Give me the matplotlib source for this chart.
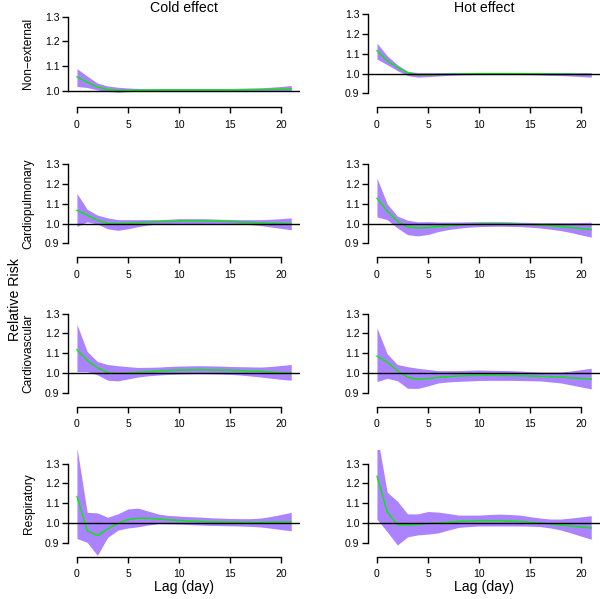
import matplotlib
matplotlib.use("Agg")
import matplotlib.pyplot as plt
import numpy as np

plt.rcParams['font.family'] = ['Liberation Sans', 'DejaVu Sans']

lags = list(range(22))

row_labels = ["Non\u2212external", "Cardiopulmonary", "Cardiovascular", "Respiratory"]
col_titles = ["Cold effect", "Hot effect"]

# ---- Non-external ----
nonext_cold_rr = [1.057, 1.035, 1.016, 1.006, 1.002, 1.002, 1.003, 1.003, 1.004, 1.004, 1.004,
                  1.004, 1.004, 1.004, 1.004, 1.004, 1.004, 1.005, 1.005, 1.006, 1.007, 1.008]
nonext_cold_hi = [1.090, 1.060, 1.032, 1.020, 1.015, 1.012, 1.010, 1.010, 1.010, 1.010, 1.010,
                  1.010, 1.010, 1.010, 1.010, 1.010, 1.011, 1.012, 1.013, 1.015, 1.018, 1.022]
nonext_cold_lo = [1.018, 1.014, 1.004, 0.998, 0.995, 0.997, 0.999, 1.000, 1.000, 1.000, 1.000,
                  1.000, 1.000, 1.000, 1.000, 1.000, 1.000, 1.000, 0.999, 0.999, 0.998, 0.998]

nonext_hot_rr = [1.116, 1.065, 1.031, 1.005, 0.993, 0.993, 0.995, 0.997, 0.998, 0.999, 1.000,
                 1.000, 1.000, 1.000, 1.000, 0.999, 0.999, 0.998, 0.998, 0.997, 0.996, 0.995]
nonext_hot_hi = [1.154, 1.090, 1.045, 1.012, 1.005, 1.005, 1.005, 1.005, 1.005, 1.005, 1.005,
                 1.005, 1.005, 1.005, 1.005, 1.004, 1.004, 1.004, 1.004, 1.004, 1.005, 1.005]
nonext_hot_lo = [1.074, 1.045, 1.015, 0.990, 0.982, 0.985, 0.988, 0.991, 0.993, 0.994, 0.995,
                 0.995, 0.995, 0.995, 0.995, 0.994, 0.993, 0.991, 0.990, 0.988, 0.985, 0.982]

# ---- Cardiopulmonary ----
cardiopul_cold_rr = [1.067, 1.043, 1.017, 1.002, 1.000, 1.002, 1.005, 1.008, 1.010, 1.011, 1.012,
                     1.013, 1.013, 1.013, 1.012, 1.010, 1.008, 1.006, 1.004, 1.002, 1.001, 1.000]
cardiopul_cold_hi = [1.152, 1.072, 1.043, 1.029, 1.020, 1.020, 1.020, 1.020, 1.020, 1.022, 1.025,
                     1.025, 1.025, 1.024, 1.022, 1.021, 1.020, 1.020, 1.020, 1.022, 1.025, 1.029]
cardiopul_cold_lo = [0.986, 1.009, 0.998, 0.974, 0.966, 0.974, 0.985, 0.993, 0.998, 0.999, 1.000,
                     1.000, 1.000, 1.000, 1.000, 0.999, 0.998, 0.995, 0.990, 0.983, 0.976, 0.969]

cardiopul_hot_rr = [1.128, 1.063, 1.012, 0.983, 0.978, 0.980, 0.985, 0.989, 0.993, 0.996, 0.998,
                    0.999, 0.999, 0.998, 0.997, 0.995, 0.992, 0.989, 0.985, 0.980, 0.975, 0.970]
cardiopul_hot_hi = [1.229, 1.100, 1.038, 1.017, 1.009, 1.010, 1.008, 1.008, 1.008, 1.009, 1.010,
                    1.010, 1.010, 1.009, 1.007, 1.006, 1.005, 1.005, 1.005, 1.005, 1.006, 1.007]
cardiopul_hot_lo = [1.034, 1.020, 0.978, 0.944, 0.938, 0.945, 0.960, 0.970, 0.977, 0.982, 0.985,
                    0.986, 0.987, 0.986, 0.985, 0.982, 0.978, 0.972, 0.965, 0.955, 0.943, 0.932]

# ---- Cardiovascular ----
cardiovas_cold_rr = [1.118, 1.063, 1.026, 1.003, 0.998, 1.000, 1.004, 1.007, 1.010, 1.013, 1.015,
                     1.016, 1.017, 1.016, 1.015, 1.014, 1.012, 1.010, 1.008, 1.005, 1.002, 1.000]
cardiovas_cold_hi = [1.245, 1.109, 1.058, 1.043, 1.037, 1.032, 1.028, 1.029, 1.030, 1.033, 1.035,
                     1.036, 1.037, 1.036, 1.035, 1.033, 1.032, 1.031, 1.030, 1.033, 1.038, 1.043]
cardiovas_cold_lo = [1.007, 1.007, 0.991, 0.964, 0.960, 0.970, 0.980, 0.986, 0.990, 0.993, 0.995,
                     0.996, 0.997, 0.996, 0.995, 0.993, 0.990, 0.985, 0.980, 0.974, 0.968, 0.964]

cardiovas_hot_rr = [1.085, 1.055, 1.012, 0.978, 0.969, 0.972, 0.978, 0.982, 0.985, 0.987, 0.988,
                    0.988, 0.988, 0.987, 0.986, 0.985, 0.983, 0.981, 0.980, 0.976, 0.972, 0.969]
cardiovas_hot_hi = [1.228, 1.097, 1.043, 1.032, 1.024, 1.018, 1.012, 1.012, 1.012, 1.014, 1.015,
                    1.014, 1.013, 1.012, 1.010, 1.007, 1.005, 1.005, 1.005, 1.010, 1.017, 1.024]
cardiovas_hot_lo = [0.957, 0.973, 0.961, 0.923, 0.922, 0.935, 0.950, 0.955, 0.958, 0.960, 0.962,
                    0.963, 0.963, 0.963, 0.962, 0.961, 0.960, 0.955, 0.950, 0.940, 0.930, 0.920]

# ---- Respiratory ----
resp_cold_rr = [1.134, 0.961, 0.936, 0.970, 0.998, 1.017, 1.024, 1.024, 1.020, 1.016, 1.013,
                1.010, 1.008, 1.006, 1.005, 1.004, 1.003, 1.003, 1.003, 1.004, 1.004, 1.005]
resp_cold_hi = [1.380, 1.054, 1.051, 1.029, 1.046, 1.071, 1.075, 1.060, 1.045, 1.038, 1.035,
                1.032, 1.030, 1.027, 1.025, 1.023, 1.022, 1.022, 1.025, 1.033, 1.043, 1.054]
resp_cold_lo = [0.922, 0.902, 0.837, 0.927, 0.964, 0.975, 0.981, 0.990, 0.997, 0.996, 0.995,
                0.992, 0.990, 0.988, 0.987, 0.986, 0.985, 0.983, 0.980, 0.974, 0.967, 0.961]

resp_hot_rr = [1.236, 1.057, 0.990, 0.990, 0.993, 0.998, 1.000, 1.004, 1.008, 1.010, 1.012,
               1.012, 1.012, 1.010, 1.008, 1.004, 1.000, 0.995, 0.990, 0.985, 0.980, 0.975]
resp_hot_hi = [1.450, 1.156, 1.110, 1.046, 1.046, 1.058, 1.055, 1.048, 1.040, 1.040, 1.040,
               1.043, 1.045, 1.043, 1.040, 1.032, 1.025, 1.020, 1.020, 1.025, 1.031, 1.037]
resp_hot_lo = [1.019, 0.956, 0.889, 0.930, 0.940, 0.944, 0.950, 0.965, 0.978, 0.982, 0.985,
               0.985, 0.985, 0.985, 0.985, 0.984, 0.982, 0.975, 0.965, 0.950, 0.934, 0.918]

panels = [
    [(nonext_cold_rr, nonext_cold_lo, nonext_cold_hi), (nonext_hot_rr, nonext_hot_lo, nonext_hot_hi)],
    [(cardiopul_cold_rr, cardiopul_cold_lo, cardiopul_cold_hi), (cardiopul_hot_rr, cardiopul_hot_lo, cardiopul_hot_hi)],
    [(cardiovas_cold_rr, cardiovas_cold_lo, cardiovas_cold_hi), (cardiovas_hot_rr, cardiovas_hot_lo, cardiovas_hot_hi)],
    [(resp_cold_rr, resp_cold_lo, resp_cold_hi), (resp_hot_rr, resp_hot_lo, resp_hot_hi)],
]

W, H = 600, 599
fig = plt.figure(figsize=(W / 100, H / 100), dpi=100)

band_color = "#AB82FF"
line_color = "#00EE00"
tick_fs = 7.5
lab_fs = 8.6
big_fs = 10.2

col_left = [68.4, 368.4]
col_right = [299.8, 599.8]
row_top = [0.3, 150.3, 299.7, 449.7]
row_h = 107.0

for r in range(4):
    for c in range(2):
        rr, lo, hi = panels[r][c]
        x0 = col_left[c] / W
        w = (col_right[c] - col_left[c]) / W
        y0 = 1 - (row_top[r] + row_h) / H
        ax = fig.add_axes([x0, y0, w, row_h / H])
        ax.fill_between(lags, lo, hi, color=band_color, lw=0)
        ax.plot(lags, rr, color=line_color, lw=1.0)
        ax.axhline(1.0, color="black", lw=1.0)
        ax.set_xlim(-0.84, 21.84)
        if r == 0 and c == 0:
            ax.set_ylim(0.934, 1.366)
            yt = [1.0, 1.1, 1.2, 1.3]
        else:
            ax.set_ylim(0.83, 1.37)
            yt = [0.9, 1.0, 1.1, 1.2, 1.3]
        ax.set_yticks(yt)
        ax.set_yticklabels([f"{v:.1f}" for v in yt])
        ax.set_xticks([0, 5, 10, 15, 20])
        ax.set_xticklabels(["0", "5", "10", "15", "20"])
        for s in ["top", "right"]:
            ax.spines[s].set_visible(False)
        ax.spines["left"].set_bounds(yt[0], yt[-1])
        ax.spines["bottom"].set_bounds(0, 20)
        for s in ["left", "bottom"]:
            ax.spines[s].set_linewidth(1.0)
        ax.tick_params(axis="y", length=4, width=1.0, pad=2.5, labelsize=tick_fs, colors="black")
        ax.tick_params(axis="x", length=4, width=1.0, pad=5, labelsize=tick_fs, colors="black")
        ax.patch.set_alpha(0)
        if c == 0:
            fig.text(28.5 / W, 1 - (row_top[r] + row_h / 2) / H, row_labels[r],
                     rotation=90, ha="center", va="center", fontsize=lab_fs)
        if r == 0:
            fig.text((col_left[c] + col_right[c]) / 2 / W, 1 - 8.5 / H, col_titles[c],
                     ha="center", va="center", fontsize=big_fs)
        if r == 3:
            fig.text((col_left[c] + col_right[c]) / 2 / W, 1 - 586.7 / H, "Lag (day)",
                     ha="center", va="center", fontsize=big_fs)

fig.text(15 / W, 0.5, "Relative Risk", rotation=90, ha="center", va="center", fontsize=big_fs)

fig.savefig("out.png", dpi=100)
